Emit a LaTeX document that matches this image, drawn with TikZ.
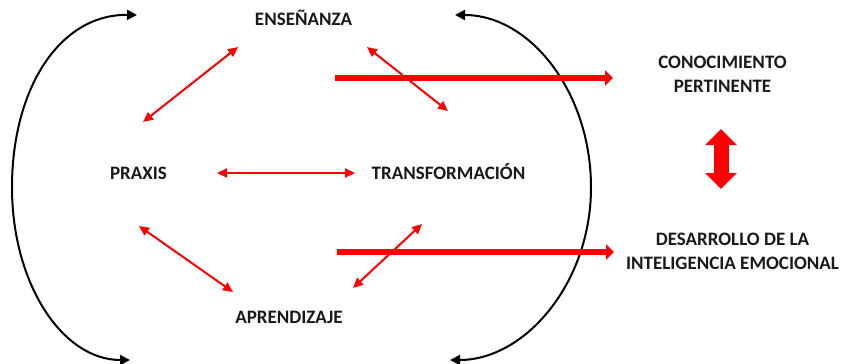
\documentclass[tikz,border=0pt]{standalone}
\usepackage{fontspec}
\setmainfont{Carlito}
\usetikzlibrary{arrows.meta,calc}
\begin{document}
\begin{tikzpicture} [x=1pt, y=-1pt]
    \tikzstyle{every node} = [align=center, font=\fontsize{19}{24}\selectfont\bfseries, text=black!90, inner sep=0pt]
    \tikzstyle{concept} = [text height=12pt, text depth=0pt]
    \tikzstyle{redlink} = [draw=red, line width=2pt, {Triangle[width=9pt,length=10pt]}-{Triangle[width=9pt,length=10pt]}]
    \tikzstyle{redpush} = [draw=red, line width=6pt, -{Triangle[width=15pt,length=8pt]}]
    \tikzstyle{bothways} = [draw=red, line width=15pt, {Triangle[width=31pt,length=16pt]}-{Triangle[width=31pt,length=16pt]}]
    \tikzstyle{ring} = [draw=black, line width=2pt, {Triangle[width=10pt,length=10pt]}-{Triangle[width=10pt,length=10pt]}]
    \useasboundingbox (0,0) rectangle (846,364);
    \node [concept] (ens) at (303.5,19) {ENSEÑANZA};
    \node [concept] (praxis) at (138.5,173) {PRAXIS};
    \node [concept] (trans) at (448.5,173) {TRANSFORMACIÓN};
    \node [concept] (apr) at (289,317) {APRENDIZAJE};
    \node (con) at (722.5,74) {CONOCIMIENTO\\PERTINENTE};
    \node (des) at (732.5,251) {DESARROLLO DE LA\\INTELIGENCIA EMOCIONAL};
    % outer cycles
    \coordinate (l1) at (137,15);
    \coordinate (l2) at (130,360);
    \coordinate (r1) at (455,15);
    \coordinate (r2) at (450,360);
    \draw [ring] (l2) .. controls (62,360) and (12,283) .. (12,187.5) .. controls (12,88) and (60,14) .. (l1);
    \draw [ring] (r1) .. controls (530,15) and (591,92) .. (591,187.5) .. controls (591,283) and (525,360) .. (r2);
    % links between the four concepts
    \draw [redlink] ($(ens)+(-65.5,28)$) -- ($(praxis)+(4.5,-51)$);
    \draw [redlink] ($(ens)+(63.5,28)$) -- ($(trans)+(-0.5,-62)$);
    \draw [redlink] ($(praxis)+(78.5,0)$) -- ($(trans)+(-93.5,0)$);
    \draw [redlink] ($(praxis)+(0.5,53)$) -- ($(apr)+(-56,-25)$);
    \draw [redlink] ($(apr)+(64,-29)$) -- ($(trans)+(-26.5,51)$);
    % results
    \coordinate (k1) at (335,78);
    \coordinate (k2) at (337,252);
    \draw [redpush] (k1) -- ($(con)+(-109.5,4)$);
    \draw [redpush] (k2) -- ($(des)+(-118.5,1)$);
    \draw [bothways] ($(con)+(-1.5,55)$) -- ($(des)+(-11.5,-62)$);
\end{tikzpicture}
\end{document}
